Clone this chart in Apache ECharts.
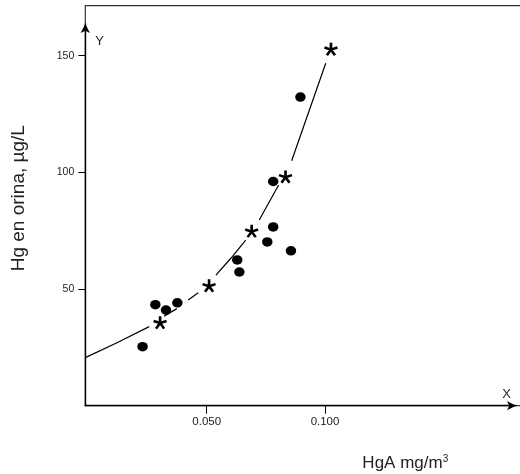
<!DOCTYPE html>
<html><head><meta charset="utf-8">
<script src="https://cdn.jsdelivr.net/npm/echarts@6/dist/echarts.min.js"></script>
<style>html,body{margin:0;padding:0;background:#fff}#c{width:520px;height:474px}</style>
</head><body><div id="c"></div>
<script>
// Data
const circleX = [0.0229, 0.0283, 0.0328, 0.0376, 0.0629, 0.0638, 0.0781, 0.0781, 0.0756, 0.0856, 0.0896];
const circleY = [25.3, 43.3, 41.0, 44.1, 62.5, 57.3, 96.1, 76.6, 70.2, 66.4, 132.3];
const starX = [0.0303, 0.0510, 0.0690, 0.0833, 0.1025];
const starY = [35.7, 51.5, 74.9, 98.2, 152.9];
// fitted curve as drawn (null = gap in the drawn line)
const curveX = [-0.0013, 0.0121, 0.0257, null, 0.0320, 0.0374, null, 0.0422, 0.0464, null, 0.0539, 0.0603, 0.0665, null, 0.0722, 0.0804, null, 0.0859, 0.0931, 0.1003];
const curveY = [20.6, 27.0, 33.9, null, 38.4, 41.6, null, 45.3, 48.4, null, 56.0, 63.3, 71.0, null, 79.6, 94.6, null, 105.0, 125.9, 146.8];
const xTickValues = [0.05, 0.1];
const xTickLabels = ['0.050', '0.100'];
const yTickValues = [50, 100, 150];
const yTickLabels = ['50', '100', '150'];
const xAxisLetter = 'X';
const yAxisLetter = 'Y';
const xTitle = 'HgA mg/m{s|3}';
const yTitle = 'Hg en orina, µg/L';

const FONT = 'Liberation Sans, Arial, sans-serif';
const INK = '#000';
const circlePath = 'path://M0,5A5,5,0,1,1,10,5A5,5,0,1,1,0,5Z';
const starPath = 'path://M0,0L0,-10M0,0L9.51,-3.09M0,0L5.88,8.09M0,0L-5.88,8.09M0,0L-9.51,-3.09';

const curveData = curveX.map((x, i) => (x === null ? ['-', '-'] : [x, curveY[i]]));
const circleData = circleX.map((x, i) => [x, circleY[i]]);
const starData = starX.map((x, i) => [x, starY[i]]);

const chart = echarts.init(document.getElementById('c'), null, {renderer: 'canvas'});
chart.setOption({
  animation: false,
  backgroundColor: '#fff',
  grid: [
    {left: 85.3, right: 4, top: 24, bottom: 68.3, containLabel: false, outerBoundsMode: 'none'},
    {left: 85.3, width: 470, top: 5.7, bottom: 68.3, containLabel: false, outerBoundsMode: 'none',
      show: true, borderColor: '#333', borderWidth: 1.2, backgroundColor: 'transparent'}
  ],
  xAxis: [
    {
      gridIndex: 0, type: 'value', min: -0.0013, max: 0.1807,
      name: xAxisLetter, nameLocation: 'end', nameGap: -9.3,
      nameTextStyle: {fontFamily: FONT, fontSize: 13, color: '#222', align: 'center', verticalAlign: 'bottom', lineHeight: 22},
      axisLine: {show: true, onZero: false, symbol: ['none', 'arrow'], symbolSize: [7, 9], lineStyle: {color: INK, width: 1.4}},
      axisTick: {show: true, customValues: xTickValues, length: 8, lineStyle: {color: INK, width: 1}},
      axisLabel: {show: true, customValues: xTickValues, margin: 10, fontFamily: FONT, fontSize: 11.5, color: '#222',
        formatter: v => xTickLabels[xTickValues.findIndex(t => Math.abs(t - v) < 1e-9)] || ''},
      splitLine: {show: false}
    },
    {
      gridIndex: 1, type: 'value', min: 0, max: 1, position: 'bottom',
      name: xTitle, nameLocation: 'middle', nameGap: 49,
      nameTextStyle: {fontFamily: FONT, fontSize: 17, color: '#222', align: 'center', padding: [0, 0, 0, 170],
        rich: {s: {fontFamily: FONT, fontSize: 10, color: '#222', verticalAlign: 'top'}}},
      axisLine: {show: false}, axisTick: {show: false}, axisLabel: {show: false}, splitLine: {show: false}
    }
  ],
  yAxis: [
    {
      gridIndex: 0, type: 'value', min: 0, max: 163.6,
      name: yAxisLetter, nameLocation: 'end', nameGap: -17.7,
      nameTextStyle: {fontFamily: FONT, fontSize: 13, color: '#222', align: 'left', verticalAlign: 'middle', padding: [0, 0, 0, 10]},
      axisLine: {show: true, onZero: false, symbol: ['none', 'arrow'], symbolSize: [7, 9], lineStyle: {color: INK, width: 1.4}},
      axisTick: {show: true, customValues: yTickValues, length: 7, lineStyle: {color: INK, width: 1}},
      axisLabel: {show: true, customValues: yTickValues, margin: 11, fontFamily: FONT, fontSize: 10.5, color: '#222',
        formatter: v => yTickLabels[yTickValues.indexOf(v)] || ''},
      splitLine: {show: false}
    },
    {
      gridIndex: 1, type: 'value', min: 0, max: 1,
      name: yTitle, nameLocation: 'middle', nameGap: 57,
      nameTextStyle: {fontFamily: FONT, fontSize: 19, color: '#222', padding: [0, 0, 0, 15]},
      axisLine: {show: false}, axisTick: {show: false}, axisLabel: {show: false}, splitLine: {show: false}
    }
  ],
  series: [
    {
      type: 'line', xAxisIndex: 0, yAxisIndex: 0, data: curveData, connectNulls: false,
      symbol: 'none', smooth: false, lineStyle: {color: INK, width: 1.2}, z: 2
    },
    {
      type: 'scatter', xAxisIndex: 0, yAxisIndex: 0, data: circleData,
      symbol: circlePath, symbolSize: [10.5, 9.5], itemStyle: {color: INK, opacity: 1}, z: 3
    },
    {
      type: 'scatter', xAxisIndex: 0, yAxisIndex: 0, data: starData,
      symbol: starPath, symbolSize: [13, 12.4], symbolKeepAspect: false,
      itemStyle: {color: INK, borderColor: INK, borderWidth: 2.6, opacity: 1}, z: 3
    }
  ]
});
</script>
</body></html>
